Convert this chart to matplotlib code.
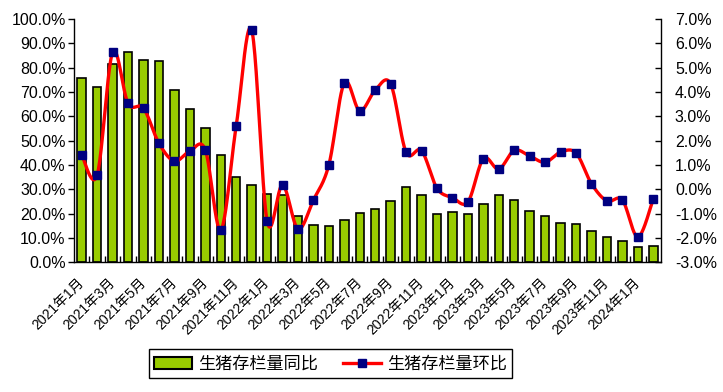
import numpy as np
import matplotlib.pyplot as plt
from matplotlib.patches import Patch
from matplotlib.lines import Line2D
from matplotlib.ticker import FixedLocator, FuncFormatter

plt.rcParams['font.family'] = ['Liberation Sans', 'Noto Sans CJK SC']

# months Jan 2021 .. Feb 2024
months = [f"{y}年{m}月" for y in (2021, 2022, 2023) for m in range(1, 13)] + ["2024年1月", "2024年2月"]

# 生猪存栏量同比 (%), left axis
yoy = [75.6, 71.9, 81.5, 86.3, 83.1, 82.7, 70.8, 63.0, 55.3, 44.1, 34.9, 31.8,
       28.2, 27.7, 19.0, 15.3, 14.9, 17.5, 20.4, 22.0, 25.2, 31.1, 27.8, 20.0,
       20.8, 20.0, 24.1, 27.7, 25.6, 21.2, 19.0, 16.2, 15.7, 13.0, 10.4, 8.9,
       6.4, 6.7]

# 生猪存栏量环比 (%), right axis
mom = [1.41, 0.59, 5.63, 3.53, 3.33, 1.89, 1.16, 1.57, 1.62, -1.67, 2.61, 6.55,
       -1.30, 0.18, -1.63, -0.44, 1.01, 4.38, 3.22, 4.08, 4.33, 1.52, 1.59, 0.04,
       -0.34, -0.52, 1.26, 0.83, 1.60, 1.37, 1.11, 1.53, 1.49, 0.23, -0.48, -0.44,
       -1.96, -0.40]

GREEN = '#99CC00'
RED = '#FF0000'
NAVY = '#000080'


def smooth(x, y, n=24):
    """Bezier smoothing through every point (like a spreadsheet smoothed line)."""
    x = np.asarray(x, float)
    y = np.asarray(y, float)
    xp = np.concatenate([[x[0]], x, [x[-1]]])
    yp = np.concatenate([[y[0]], y, [y[-1]]])
    t = np.linspace(0, 1, n, endpoint=False)[:, None]
    out = []
    for i in range(len(x) - 1):
        p0, p1, p2, p3 = (np.array([xp[i + k], yp[i + k]]) for k in range(4))
        c1 = p1 + (p2 - p0) / 6
        c2 = p2 - (p3 - p1) / 6
        seg = (1 - t) ** 3 * p1 + 3 * (1 - t) ** 2 * t * c1 + 3 * (1 - t) * t ** 2 * c2 + t ** 3 * p2
        out.append(seg)
    out.append(np.array([[x[-1], y[-1]]]))
    out = np.vstack(out)
    return out[:, 0], out[:, 1]


W, H = 723, 392
fig = plt.figure(figsize=(W / 100, H / 100), dpi=100)
ax = fig.add_axes([74 / W, 1 - 262.3 / H, (661 - 74) / W, (262.3 - 19) / H])

x = np.arange(len(months))
ax.bar(x, yoy, width=0.55, color=GREEN, edgecolor='black', linewidth=1.2, zorder=2)
ax.set_xlim(-0.5, len(months) - 0.5)
ax.set_ylim(0, 100)
ax.yaxis.set_major_locator(FixedLocator(np.arange(0, 101, 10)))
ax.yaxis.set_major_formatter(FuncFormatter(lambda v, p: f"{v:.1f}%"))
ax.tick_params(axis='y', direction='out', length=4, width=1, labelsize=11.5, pad=2)

ax.set_xticks(x[::2])
ax.set_xticklabels(months[::2], rotation=45, ha='right', va='center',
                   rotation_mode='anchor', fontsize=10)
ax.xaxis.set_minor_locator(FixedLocator(np.arange(0.5, len(months) - 1, 1)))
ax.tick_params(axis='x', which='major', length=0, pad=13)
ax.tick_params(axis='x', which='minor', direction='in', length=4, width=1)
ax.spines['top'].set_visible(False)
ax.spines['right'].set_visible(False)
for s in ('left', 'bottom'):
    ax.spines[s].set_linewidth(1)

ax2 = ax.twinx()
ax2.set_ylim(-3, 7)
ax2.yaxis.set_major_locator(FixedLocator(np.arange(-3, 7.1, 1)))
ax2.yaxis.set_major_formatter(FuncFormatter(lambda v, p: f"{v:.1f}%"))
ax2.tick_params(axis='y', direction='in', length=4, width=1, labelsize=11.5, pad=10)
ax2.spines['top'].set_visible(False)
ax2.spines['left'].set_visible(False)
ax2.spines['bottom'].set_visible(False)
ax2.spines['right'].set_linewidth(1)

sx, sy = smooth(x, mom)
ax2.plot(sx, sy, color=RED, lw=2.4, zorder=3, solid_capstyle='round')
ax2.plot(x, mom, ls='none', marker='s', ms=6, color=NAVY, mec=NAVY, zorder=4)

handles = [Patch(facecolor=GREEN, edgecolor='black', linewidth=1.5),
           Line2D([], [], color=RED, lw=2.4, marker='s', ms=6, mfc=NAVY, mec=NAVY)]
leg = fig.legend(handles, ['生猪存栏量同比', '生猪存栏量环比'], loc='center',
                 bbox_to_anchor=(330.5 / W, 1 - 363.5 / H), ncol=2, fontsize=12.3,
                 frameon=True, fancybox=False, edgecolor='black', framealpha=1,
                 borderpad=0.3, handlelength=2.2, handletextpad=0.35,
                 columnspacing=1.5, borderaxespad=0)
leg.get_frame().set_linewidth(1)
for t in leg.get_texts():
    t.set_family(['Noto Sans CJK SC'])

fig.savefig('out.png', dpi=100)
